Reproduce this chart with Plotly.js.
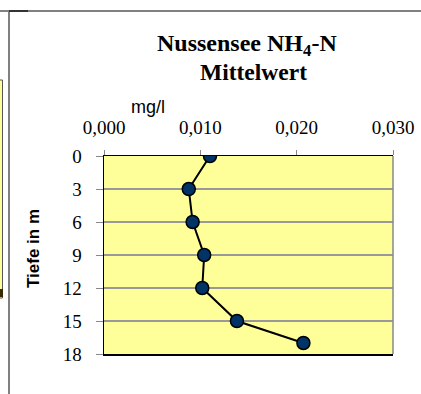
<!DOCTYPE html>
<html><head><meta charset="utf-8">
<script src="https://cdn.plot.ly/plotly-3.0.1.min.js"></script>
<style>html,body{margin:0;padding:0;background:#fff}#c{width:421px;height:394px}</style>
</head><body><div id="c"></div>
<script>
const depth = [0, 3, 6, 9, 12, 15, 17];
const nh4 = [0.011, 0.0088, 0.0092, 0.0104, 0.0102, 0.0138, 0.0207];
const depthTicks = [0, 3, 6, 9, 12, 15, 18];
const xTicks = [0, 0.01, 0.02, 0.03];

const W = 421, H = 394, L = 104, R = 28, T = 156, B = 40;
const pw = W - L - R, ph = H - T - B;
const px = v => (v - L) / pw;
const py = v => (H - B - v) / ph;

const serif = 'Liberation Serif, Times New Roman, serif';
const sans = 'Liberation Sans, Arial, sans-serif';

const trace = {
  x: nh4, y: depth, type: 'scatter', mode: 'lines+markers',
  line: {color: '#000', width: 2},
  marker: {size: 13, color: '#003366', line: {color: '#000', width: 1.5}},
  hoverinfo: 'skip'
};

const ann = (text, x, y, size, family, extra) => Object.assign({
  text, xref: 'paper', yref: 'paper', x: px(x), y: py(y), xanchor: 'center', yanchor: 'middle',
  showarrow: false, borderpad: 0, font: {family, size, color: '#000'}
}, extra || {});

const layout = {
  width: W, height: H,
  margin: {l: L, r: R, t: T, b: B, pad: 0},
  paper_bgcolor: '#fff', plot_bgcolor: '#FFFF99',
  separators: ',.',
  showlegend: false,
  xaxis: {
    side: 'top', range: [0, 0.03], tickvals: xTicks, tickformat: '.3f',
    showgrid: false, zeroline: false, showline: true, linecolor: '#000', linewidth: 1.5,
    mirror: true, ticks: 'outside', ticklen: 5, tickcolor: '#888', tickwidth: 1,
    ticklabelstandoff: 8,
    tickfont: {family: serif, size: 19, color: '#000'}
  },
  yaxis: {
    range: [18, 0], tickvals: depthTicks,
    showgrid: true, gridcolor: '#999', gridwidth: 1.5, zeroline: false,
    showline: true, linecolor: '#000', linewidth: 1.5,
    ticks: 'outside', ticklen: 7, tickcolor: '#888', tickwidth: 1,
    ticklabelstandoff: 10,
    tickfont: {family: serif, size: 19, color: '#000'}
  },
  annotations: [
    ann('<b>Nussensee NH<sub>4</sub>-N</b>', 247, 45, 24, serif),
    ann('<b>Mittelwert</b>', 253, 72, 23.5, serif),
    ann('mg/l', 148, 107, 18, sans),
    ann('<b>Tiefe in m</b>', 33, 249, 17, sans, {textangle: -90})
  ],
  shapes: [
    {type: 'line', xref: 'paper', yref: 'paper', x0: px(393), x1: px(393), y0: py(156), y1: py(354), line: {color: '#888', width: 1.5}},
    {type: 'line', xref: 'paper', yref: 'paper', x0: px(9), x1: px(9), y0: py(10), y1: py(396), line: {color: '#808080', width: 2}},
    {type: 'line', xref: 'paper', yref: 'paper', x0: px(0), x1: px(421), y0: py(11), y1: py(11), line: {color: '#808080', width: 2}},
    {type: 'line', xref: 'paper', yref: 'paper', x0: px(9), x1: px(28), y0: py(11), y1: py(11), line: {color: '#333', width: 2}},
    {type: 'rect', xref: 'paper', yref: 'paper', x0: px(-2), x1: px(2.5), y0: py(80), y1: py(298), fillcolor: '#FFFF99', line: {color: '#555', width: 1}},
    {type: 'rect', xref: 'paper', yref: 'paper', x0: px(-2), x1: px(3), y0: py(289), y1: py(297), fillcolor: '#3a2a00', line: {width: 0}}
  ]
};

Plotly.newPlot('c', [trace], layout, {displayModeBar: false, staticPlot: true});
</script></body></html>
